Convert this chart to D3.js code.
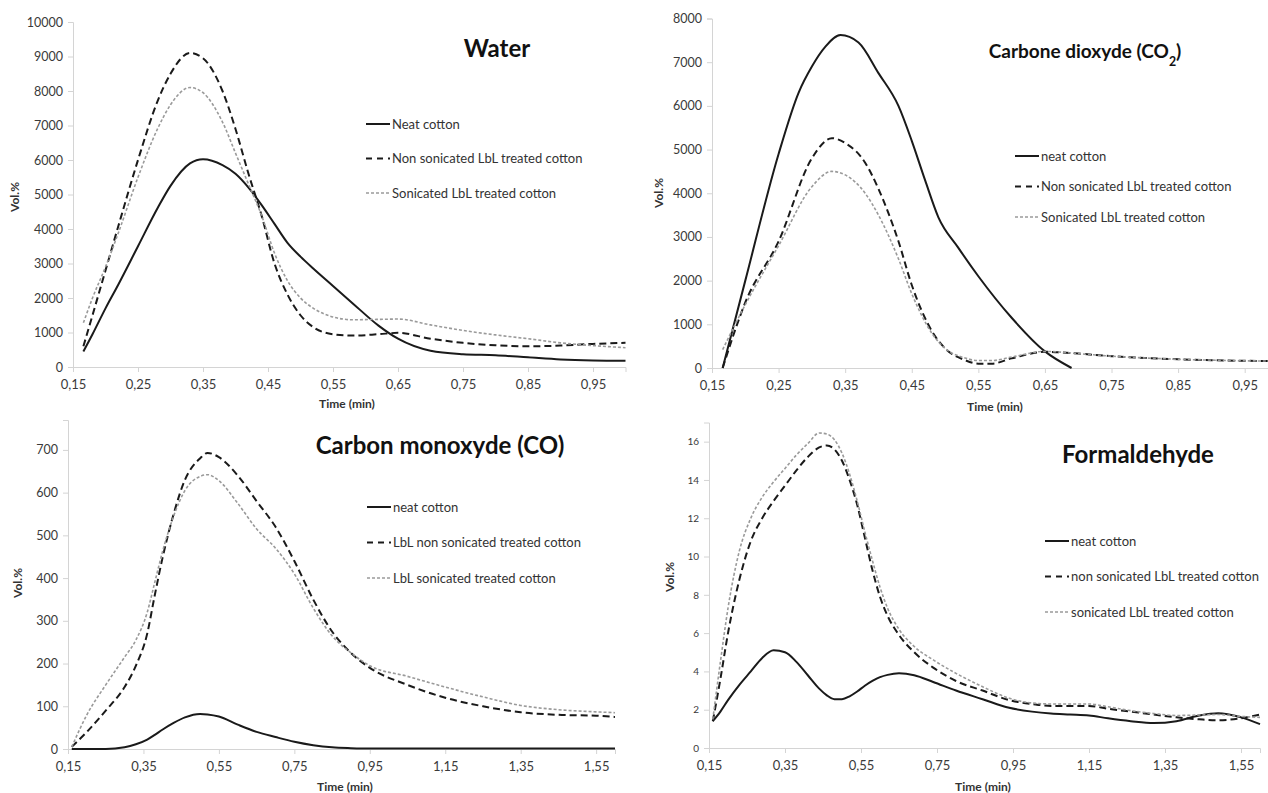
<!DOCTYPE html>
<html>
<head>
<meta charset="utf-8">
<script src="https://cdn.jsdelivr.net/npm/d3@7"></script>
<style>
  body { margin: 0; background: #fff; }
  svg { display: block; font-family: Lato, "Open Sans", sans-serif; }
</style>
</head>
<body>
<div id="plot"></div>
<script>
// ---- data ----
var waterTime = [0.166,0.18,0.2,0.22,0.25,0.28,0.3,0.33,0.35,0.38,0.4,0.42,0.44,0.46,0.48,0.5,0.52,0.55,0.58,0.62,0.65,0.7,0.75,0.8,0.85,0.9,0.95,1.0];
var waterNeat = [450,950,1700,2400,3500,4600,5250,5900,6020,5850,5600,5200,4700,4150,3600,3200,2850,2350,1850,1200,820,470,370,340,280,220,190,180];
var waterNonSon = [600,1500,2800,4100,6000,7700,8500,9100,8950,8000,6900,5600,4400,3000,2100,1500,1150,950,910,950,990,820,700,630,600,620,670,700];
var waterSon = [1280,2000,2900,3900,5500,6900,7600,8100,7950,7100,6200,5300,4400,3300,2500,2000,1700,1450,1370,1380,1390,1220,1060,930,820,700,620,560];

var co2NeatTime = [0.166,0.2,0.25,0.28,0.3,0.32,0.343,0.37,0.4,0.43,0.45,0.47,0.49,0.52,0.55,0.6,0.65,0.69];
var co2Neat = [0,2000,4900,6300,6900,7350,7620,7450,6750,6000,5200,4300,3450,2750,2100,1150,380,0];
var co2Time = [0.166,0.2,0.25,0.3,0.33,0.35,0.38,0.4,0.43,0.45,0.48,0.5,0.53,0.55,0.57,0.6,0.65,0.7,0.75,0.8,0.85,0.9,0.95,0.985];
var co2NonSon = [0,1500,2900,4800,5260,5150,4700,4100,2900,1900,850,450,180,100,100,220,370,330,270,230,200,180,165,160];
var co2Son = [420,1450,2800,4150,4500,4420,4000,3500,2500,1700,800,450,230,170,170,250,380,330,270,230,200,180,165,160];

var coTime = [0.16,0.2,0.25,0.3,0.33,0.36,0.38,0.4,0.43,0.46,0.5,0.52,0.55,0.6,0.65,0.7,0.75,0.8,0.85,0.9,0.95,1.05,1.15,1.25,1.35,1.45,1.55,1.6];
var coNeat = [0,0,0,4,11,22,33,45,61,74,82,81,76,57,40,28,17,9,4,2,1,1,1,1,1,1,1,1];
var coNonSon = [5,40,90,145,195,270,360,445,550,630,680,693,683,640,580,520,440,350,275,225,190,150,120,100,86,80,78,75];
var coSon = [5,80,150,215,255,320,390,460,545,605,638,642,628,575,515,470,410,330,265,225,195,170,145,122,102,92,87,85];

var formTime = [0.16,0.18,0.2,0.23,0.26,0.29,0.32,0.35,0.38,0.41,0.44,0.46,0.48,0.5,0.52,0.54,0.56,0.58,0.6,0.62,0.65,0.69,0.74,0.8,0.87,0.94,1.0,1.05,1.1,1.15,1.2,1.26,1.32,1.38,1.44,1.49,1.55,1.6];
var formNeat = [1.4,1.9,2.5,3.3,4.0,4.7,5.1,5.0,4.5,3.8,3.1,2.75,2.55,2.55,2.7,2.95,3.25,3.5,3.7,3.82,3.9,3.8,3.45,3.0,2.55,2.1,1.9,1.8,1.75,1.7,1.55,1.4,1.3,1.4,1.7,1.82,1.6,1.25];
var formNonSon = [1.4,3.6,6.0,8.8,10.8,12.0,12.9,13.7,14.5,15.2,15.7,15.8,15.6,15.0,14.0,12.7,11.0,9.3,7.9,6.9,5.9,5.0,4.2,3.5,3.0,2.5,2.3,2.2,2.2,2.2,2.05,1.9,1.75,1.6,1.5,1.45,1.55,1.75];
var formSon = [1.5,4.5,7.3,10.3,12.0,13.1,13.9,14.6,15.3,15.9,16.45,16.4,16.1,15.4,14.3,12.9,11.3,9.8,8.4,7.3,6.2,5.3,4.6,3.9,3.2,2.6,2.35,2.3,2.3,2.3,2.15,1.95,1.8,1.7,1.72,1.75,1.65,1.6];

var ticksShort = [0.15,0.25,0.35,0.45,0.55,0.65,0.75,0.85,0.95];
var ticksLong = [0.15,0.35,0.55,0.75,0.95,1.15,1.35,1.55];

var legendWater = ['Neat cotton','Non sonicated LbL treated cotton','Sonicated LbL treated cotton'];
var legendCO2 = ['neat cotton','Non sonicated LbL treated cotton','Sonicated LbL treated cotton'];
var legendCO = ['neat cotton','LbL non sonicated treated cotton','LbL sonicated treated cotton'];
var legendForm = ['neat cotton','non sonicated LbL treated cotton','sonicated LbL treated cotton'];

// ---- drawing ----
var svg = d3.select('#plot').append('svg')
  .attr('width', 1268)
  .attr('height', 793);

var styles = [
  {stroke:'#1a1a1a', width:2, dash:null},
  {stroke:'#1a1a1a', width:2, dash:'7,4'},
  {stroke:'#9a9a9a', width:1.6, dash:'3,2'}
];

var fmt = function(d){ return d3.format('.2f')(d).replace('.', ','); };

function drawPanel(p) {
  var x = d3.scaleLinear().domain(p.xDomain).range([p.x0, p.x1]);
  var y = d3.scaleLinear().domain(p.yDomain).range([p.y0, p.y1]);
  var g = svg.append('g');

  // y axis
  var ya = g.append('g')
    .attr('transform', 'translate(' + p.x0 + ',0)')
    .call(d3.axisLeft(y).tickValues(p.yTicks).tickSize(5).tickPadding(5).tickFormat(d3.format('d')));
  // x axis
  var xa = g.append('g')
    .attr('transform', 'translate(0,' + p.y0 + ')')
    .call(d3.axisBottom(x).tickValues(p.xTicks).tickSize(5).tickPadding(8).tickFormat(fmt));
  [ya, xa].forEach(function(a){
    a.select('.domain').attr('stroke', '#d4d4d4');
    a.selectAll('.tick line').attr('stroke', '#d4d4d4');
    a.selectAll('.tick text').attr('fill', '#3a3a3a')
      .style('font-family', 'Lato, sans-serif');
  });
  xa.selectAll('.tick text').style('font-size', '13px');
  ya.selectAll('.tick text').style('font-size', p.yFont + 'px');

  // series
  var line = d3.line()
    .x(function(d){ return x(d[0]); })
    .y(function(d){ return y(d[1]); })
    .curve(d3.curveMonotoneX);
  p.series.forEach(function(s, i){
    var pts = s.t.map(function(t, k){ return [t, s.v[k]]; });
    g.append('path')
      .datum(pts)
      .attr('d', line)
      .attr('fill', 'none')
      .attr('stroke', styles[i].stroke)
      .attr('stroke-width', styles[i].width)
      .attr('stroke-dasharray', styles[i].dash);
  });

  // title
  var t = g.append('text')
    .attr('x', p.titleX).attr('y', p.titleY)
    .attr('text-anchor', 'middle')
    .style('font-weight', 'bold')
    .style('font-size', p.titleSize + 'px')
    .attr('fill', '#111');
  p.title.forEach(function(part){
    var ts = t.append('tspan').text(part.s);
    if (part.sub) ts.attr('baseline-shift', 'sub').style('font-size', (p.titleSize * 0.65) + 'px');
  });

  // legend
  p.legend.forEach(function(txt, i){
    var ly = p.legY + i * p.legStep;
    g.append('line')
      .attr('x1', p.legX).attr('x2', p.legX + 24)
      .attr('y1', ly).attr('y2', ly)
      .attr('stroke', styles[i].stroke)
      .attr('stroke-width', styles[i].width)
      .attr('stroke-dasharray', i === 1 ? '6,5' : styles[i].dash);
    g.append('text')
      .attr('x', p.legX + 26).attr('y', ly + 4.5)
      .style('font-size', '13px')
      .attr('fill', '#333')
      .text(txt);
  });

  // axis titles
  g.append('text')
    .attr('transform', 'translate(' + p.yLabX + ',' + p.yLabY + ') rotate(-90)')
    .attr('text-anchor', 'middle')
    .style('font-weight', 'bold').style('font-size', '12px')
    .attr('fill', '#333')
    .text('Vol.%');
  g.append('text')
    .attr('x', p.xLabX).attr('y', p.xLabY)
    .attr('text-anchor', 'middle')
    .style('font-weight', 'bold').style('font-size', '12px')
    .attr('fill', '#333')
    .text('Time (min)');
}

drawPanel({
  xDomain:[0.15,1.0], x0:73, x1:625.5, yDomain:[0,10000], y0:367, y1:22,
  xTicks:ticksShort, yTicks:d3.range(0,10001,1000), yFont:12.5,
  series:[{t:waterTime,v:waterNeat},{t:waterTime,v:waterNonSon},{t:waterTime,v:waterSon}],
  title:[{s:'Water'}], titleX:497, titleY:57, titleSize:24,
  legend:legendWater, legX:366, legY:124, legStep:34.5,
  yLabX:19, yLabY:197, xLabX:347, xLabY:408
});

drawPanel({
  xDomain:[0.15,0.985], x0:712, x1:1268, yDomain:[0,8000], y0:368, y1:18.5,
  xTicks:ticksShort, yTicks:d3.range(0,8001,1000), yFont:12.5,
  series:[{t:co2NeatTime,v:co2Neat},{t:co2Time,v:co2NonSon},{t:co2Time,v:co2Son}],
  title:[{s:'Carbone dioxyde (CO'},{s:'2',sub:true},{s:')'}], titleX:1085, titleY:58, titleSize:19,
  legend:legendCO2, legX:1015, legY:156, legStep:30.5,
  yLabX:663, yLabY:193, xLabX:995, xLabY:411
});

drawPanel({
  xDomain:[0.15,1.6], x0:68, x1:615, yDomain:[0,770], y0:749, y1:420,
  xTicks:ticksLong, yTicks:d3.range(0,701,100), yFont:12.5,
  series:[{t:coTime,v:coNeat},{t:coTime,v:coNonSon},{t:coTime,v:coSon}],
  title:[{s:'Carbon monoxyde (CO)'}], titleX:440, titleY:454, titleSize:24,
  legend:legendCO, legX:367, legY:507, legStep:35.5,
  yLabX:22, yLabY:583, xLabX:345, xLabY:791
});

drawPanel({
  xDomain:[0.15,1.6], x0:709, x1:1260, yDomain:[0,17], y0:748, y1:422.5,
  xTicks:ticksLong, yTicks:d3.range(0,17,2), yFont:10,
  series:[{t:formTime,v:formNeat},{t:formTime,v:formNonSon},{t:formTime,v:formSon}],
  title:[{s:'Formaldehyde'}], titleX:1138, titleY:463, titleSize:24,
  legend:legendForm, legX:1045, legY:541, legStep:35.5,
  yLabX:674, yLabY:577, xLabX:983, xLabY:791
});
</script>
</body>
</html>
